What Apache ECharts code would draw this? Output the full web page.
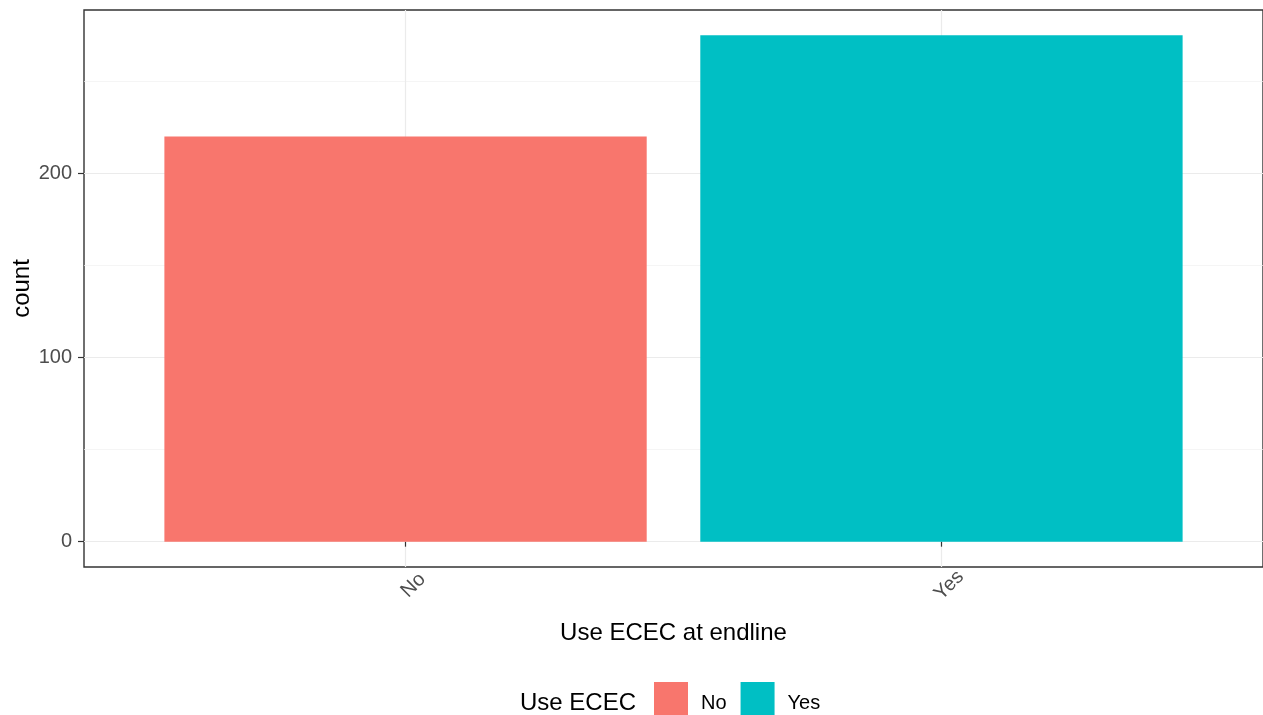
<!DOCTYPE html>
<html>
<head>
<meta charset="utf-8">
<script src="https://cdn.jsdelivr.net/npm/echarts@6/dist/echarts.min.js"></script>
<style>
html,body{margin:0;padding:0;background:#fff;}
#chart{width:1263px;height:715px;}
</style>
</head>
<body>
<div id="chart"></div>
<script>
var categories = ['No', 'Yes'];
var counts = [220, 275];
var yMajorTicks = [0, 100, 200];
var yMinorTicks = [50, 150, 250];
var xTicks = [1, 2];
var barColors = ['#F8766D', '#00BFC4'];

var FONT = '"Liberation Sans", Arial, sans-serif';
var maxCount = Math.max.apply(null, counts);
var yMin = -0.05 * maxCount;
var yMax = maxCount * 1.05;

var chart = echarts.init(document.getElementById('chart'));

var series = categories.map(function (c, i) {
  return {
    name: c,
    type: 'bar',
    xAxisIndex: 0,
    yAxisIndex: 0,
    barWidth: '90%',
    barGap: '-100%',
    itemStyle: { color: barColors[i] },
    data: [[xTicks[i], counts[i]]],
    z: 3
  };
});

chart.setOption({
  animation: false,
  textStyle: { fontFamily: FONT },
  title: {
    text: 'Use ECEC',
    left: 520,
    top: 688,
    padding: 0,
    textStyle: { fontFamily: FONT, fontSize: 24, fontWeight: 'normal', color: '#000', lineHeight: 30 }
  },
  legend: {
    left: 654,
    top: 682,
    padding: 0,
    itemWidth: 34,
    itemHeight: 43,
    itemGap: 14,
    icon: 'rect',
    data: categories,
    textStyle: { fontFamily: FONT, fontSize: 20, color: '#000', padding: [0, 0, 0, 8] }
  },
  grid: {
    left: 84, right: 0, top: 10, bottom: 148,
    outerBoundsMode: 'none',
    containLabel: false,
    show: true,
    borderColor: '#333333',
    borderWidth: 1.4,
    backgroundColor: 'transparent'
  },
  xAxis: [{
    type: 'value',
    min: 0.4,
    max: 2.6,
    name: 'Use ECEC at endline',
    nameLocation: 'middle',
    nameGap: 66,
    nameMoveOverlap: false,
    nameTextStyle: { fontFamily: FONT, fontSize: 24, color: '#000', verticalAlign: 'middle' },
    axisLine: { show: false },
    axisTick: { show: true, customValues: xTicks, length: 5, lineStyle: { color: '#333', width: 1.2 } },
    axisLabel: {
      customValues: xTicks,
      rotate: 45,
      align: 'center',
      verticalAlign: 'middle',
      margin: 26,
      padding: [0, 0, 0, 22],
      fontSize: 20,
      color: '#4D4D4D',
      fontFamily: FONT,
      formatter: function (v) { return categories[Math.round(v) - 1] || ''; }
    },
    splitLine: { show: true, lineStyle: { color: '#EBEBEB', width: 1.2 } }
  }],
  yAxis: [{
    type: 'value',
    min: yMin,
    max: yMax,
    name: 'count',
    nameLocation: 'middle',
    nameGap: 62,
    nameMoveOverlap: false,
    nameTextStyle: { fontFamily: FONT, fontSize: 24, color: '#000', verticalAlign: 'middle' },
    axisLine: { show: false },
    axisTick: { show: true, customValues: yMajorTicks, length: 6, lineStyle: { color: '#333', width: 1.2 } },
    axisLabel: {
      customValues: yMajorTicks,
      margin: 12,
      fontSize: 20,
      color: '#4D4D4D',
      fontFamily: FONT
    },
    splitLine: { show: true, lineStyle: { color: '#EBEBEB', width: 1.2 } }
  }, {
    type: 'value',
    min: yMin,
    max: yMax,
    position: 'left',
    offset: 0,
    axisLine: { show: false },
    axisTick: { show: false, customValues: yMinorTicks },
    axisLabel: { show: false, customValues: yMinorTicks },
    splitLine: { show: true, lineStyle: { color: '#F0F0F0', width: 0.7 } }
  }],
  series: series
});
</script>
</body>
</html>
